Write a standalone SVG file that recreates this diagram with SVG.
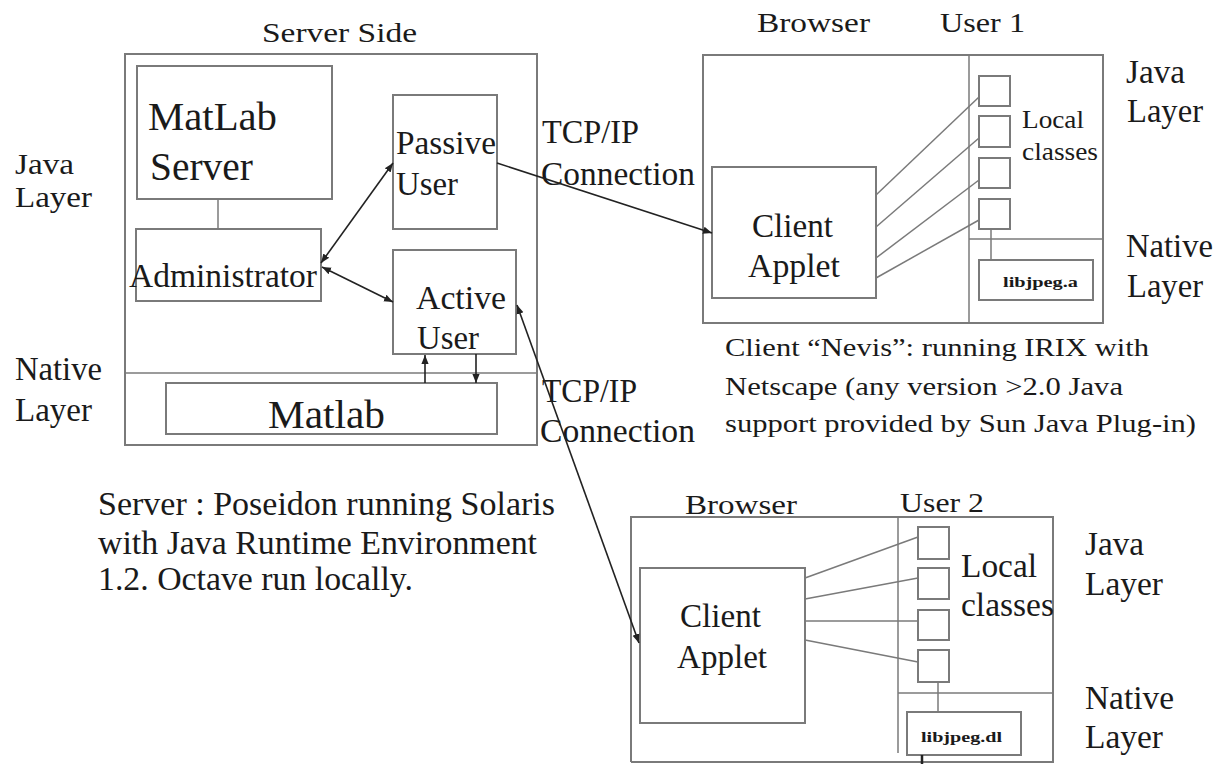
<svg xmlns="http://www.w3.org/2000/svg" width="1224" height="764" viewBox="0 0 1224 764" font-family="'Liberation Serif', 'Times New Roman', serif">
<style>
.bx{fill:none;stroke:#7a7a7a;stroke-width:2}
.ln{fill:none;stroke:#7a7a7a;stroke-width:1.5}
.ar{fill:none;stroke:#222;stroke-width:1.6}
text{font-family:"Liberation Serif","Times New Roman",serif;fill:#1a1a1a}
.t33{font-size:33px}
.t30{font-size:30px}
.t39{font-size:39px}
.t28{font-size:28px}
.t26{font-size:25px}
.sm{font-size:14px;font-weight:bold}
</style>
<defs>
<marker id="ah" viewBox="0 0 10 10" refX="10" refY="5" markerWidth="9" markerHeight="9" markerUnits="userSpaceOnUse" orient="auto-start-reverse">
<path d="M0,1 L10,5 L0,9 z" fill="#222"/>
</marker>
</defs>
<rect width="1224" height="764" fill="#fff"/>

<g id="server">
<text class="t28" x="262" y="42" textLength="155" lengthAdjust="spacingAndGlyphs">Server Side</text>
<rect class="bx" x="125" y="54" width="412" height="391"/>
<line class="ln" x1="125" y1="373" x2="537" y2="373"/>
</g>

<g id="left-labels">
<text class="t30" x="15" y="174" textLength="59" lengthAdjust="spacingAndGlyphs">Java</text>
<text class="t30" x="15" y="207" textLength="77" lengthAdjust="spacingAndGlyphs">Layer</text>
<text class="t33" x="15" y="380" textLength="87" lengthAdjust="spacingAndGlyphs">Native</text>
<text class="t33" x="15" y="421" textLength="77" lengthAdjust="spacingAndGlyphs">Layer</text>
</g>

<g id="matlab-server">
<rect class="bx" x="137" y="66" width="195" height="133"/>
<text class="t39" x="148" y="130" textLength="129" lengthAdjust="spacingAndGlyphs">MatLab</text>
<text class="t39" x="150" y="180" textLength="103" lengthAdjust="spacingAndGlyphs">Server</text>
</g>

<g id="administrator">
<rect class="bx" x="136" y="229" width="185" height="72"/>
<text class="t33" x="129" y="287" textLength="188" lengthAdjust="spacingAndGlyphs">Administrator</text>
</g>

<g id="passive-user">
<rect class="bx" x="393" y="95" width="104" height="134"/>
<text class="t33" x="396" y="154" textLength="100" lengthAdjust="spacingAndGlyphs">Passive</text>
<text class="t33" x="396" y="195" textLength="62" lengthAdjust="spacingAndGlyphs">User</text>
</g>

<g id="active-user">
<rect class="bx" x="393" y="250" width="123" height="104"/>
<text class="t33" x="416" y="309" textLength="90" lengthAdjust="spacingAndGlyphs">Active</text>
<text class="t33" x="417" y="349" textLength="62" lengthAdjust="spacingAndGlyphs">User</text>
</g>

<g id="matlab">
<rect class="bx" x="166" y="383" width="331" height="51"/>
<text class="t39" x="268" y="428" textLength="117" lengthAdjust="spacingAndGlyphs">Matlab</text>
</g>

<g id="tcp-labels">
<text class="t33" x="542" y="143" textLength="97" lengthAdjust="spacingAndGlyphs">TCP/IP</text>
<text class="t33" x="541" y="185" textLength="154" lengthAdjust="spacingAndGlyphs">Connection</text>
<text class="t33" x="542" y="402" textLength="95" lengthAdjust="spacingAndGlyphs">TCP/IP</text>
<text class="t33" x="540" y="442" textLength="155" lengthAdjust="spacingAndGlyphs">Connection</text>
</g>

<g id="server-caption">
<text class="t33" x="98" y="515" textLength="457" lengthAdjust="spacingAndGlyphs">Server : Poseidon running Solaris</text>
<text class="t33" x="98" y="554" textLength="439" lengthAdjust="spacingAndGlyphs">with Java Runtime Environment</text>
<text class="t33" x="98" y="590" textLength="315" lengthAdjust="spacingAndGlyphs">1.2. Octave run locally.</text>
</g>

<g id="browser1">
<text class="t28" x="757" y="32" textLength="113" lengthAdjust="spacingAndGlyphs">Browser</text>
<text class="t28" x="940" y="32" textLength="85" lengthAdjust="spacingAndGlyphs">User 1</text>
<rect class="bx" x="703" y="55" width="400" height="268"/>
<line class="ln" x1="969" y1="55" x2="969" y2="323"/>
<line class="ln" x1="969" y1="239" x2="1103" y2="239"/>
<text class="t33" x="1126" y="83" textLength="59" lengthAdjust="spacingAndGlyphs">Java</text>
<text class="t33" x="1127" y="122" textLength="76" lengthAdjust="spacingAndGlyphs">Layer</text>
<text class="t33" x="1126" y="257" textLength="87" lengthAdjust="spacingAndGlyphs">Native</text>
<text class="t33" x="1127" y="297" textLength="76" lengthAdjust="spacingAndGlyphs">Layer</text>
<text class="t26" x="1022" y="128" textLength="62" lengthAdjust="spacingAndGlyphs">Local</text>
<text class="t26" x="1022" y="160" textLength="76" lengthAdjust="spacingAndGlyphs">classes</text>
</g>

<g id="client-applet1">
<rect class="bx" x="712" y="167" width="164" height="131"/>
<text class="t33" x="752" y="237" textLength="81" lengthAdjust="spacingAndGlyphs">Client</text>
<text class="t33" x="748" y="277" textLength="92" lengthAdjust="spacingAndGlyphs">Applet</text>
</g>

<g id="local-classes1">
<rect class="bx" x="979" y="76" width="31" height="30"/>
<rect class="bx" x="979" y="116" width="31" height="31"/>
<rect class="bx" x="979" y="158" width="31" height="30"/>
<rect class="bx" x="979" y="199" width="31" height="30"/>
</g>

<g id="libjpeg-a">
<rect class="bx" x="979" y="260" width="114" height="40"/>
<text class="sm" x="1003" y="287" textLength="75" lengthAdjust="spacingAndGlyphs">libjpeg.a</text>
</g>

<g id="client-caption">
<text class="t26" x="725" y="356" textLength="424" lengthAdjust="spacingAndGlyphs">Client “Nevis”: running IRIX with</text>
<text class="t26" x="725" y="395" textLength="398" lengthAdjust="spacingAndGlyphs">Netscape (any version &gt;2.0 Java</text>
<text class="t26" x="725" y="432" textLength="471" lengthAdjust="spacingAndGlyphs">support provided by Sun Java Plug-in)</text>
</g>

<g id="browser2">
<text class="t28" x="685" y="514" textLength="112" lengthAdjust="spacingAndGlyphs">Browser</text>
<text class="t28" x="900" y="512" textLength="84" lengthAdjust="spacingAndGlyphs">User 2</text>
<path class="bx" d="M631,762 V517 H1053 V762 H631"/>
<line class="ln" x1="898" y1="517" x2="898" y2="753"/>
<line class="ln" x1="898" y1="693" x2="1053" y2="693"/>
<text class="t33" x="1085" y="555" textLength="59" lengthAdjust="spacingAndGlyphs">Java</text>
<text class="t33" x="1085" y="595" textLength="78" lengthAdjust="spacingAndGlyphs">Layer</text>
<text class="t33" x="1085" y="709" textLength="89" lengthAdjust="spacingAndGlyphs">Native</text>
<text class="t33" x="1085" y="748" textLength="78" lengthAdjust="spacingAndGlyphs">Layer</text>
<text class="t33" x="961" y="577" textLength="76" lengthAdjust="spacingAndGlyphs">Local</text>
<text class="t33" x="961" y="616" textLength="93" lengthAdjust="spacingAndGlyphs">classes</text>
</g>

<g id="client-applet2">
<rect class="bx" x="640" y="568" width="165" height="155"/>
<text class="t33" x="680" y="627" textLength="81" lengthAdjust="spacingAndGlyphs">Client</text>
<text class="t33" x="677" y="668" textLength="90" lengthAdjust="spacingAndGlyphs">Applet</text>
</g>

<g id="local-classes2">
<rect class="bx" x="918" y="527" width="31" height="32"/>
<rect class="bx" x="918" y="568" width="31" height="31"/>
<rect class="bx" x="918" y="610" width="31" height="30"/>
<rect class="bx" x="918" y="650" width="31" height="32"/>
</g>

<g id="libjpeg-dl">
<rect class="bx" x="907" y="712" width="114" height="43"/>
<text class="sm" x="921" y="742" textLength="81" lengthAdjust="spacingAndGlyphs">libjpeg.dl</text>
</g>

<g id="connectors">
<line class="ln" x1="218" y1="199" x2="218" y2="229"/>
<line class="ar" x1="321" y1="263" x2="393" y2="163" marker-start="url(#ah)" marker-end="url(#ah)"/>
<line class="ar" x1="322" y1="267" x2="393" y2="302" marker-start="url(#ah)" marker-end="url(#ah)"/>
<line class="ar" x1="425" y1="383" x2="425" y2="355" marker-end="url(#ah)"/>
<line class="ar" x1="476" y1="354" x2="476" y2="383" marker-end="url(#ah)"/>
<line class="ar" x1="497" y1="163" x2="712" y2="233" marker-end="url(#ah)"/>
<line class="ar" x1="517" y1="305" x2="639" y2="643" marker-start="url(#ah)" marker-end="url(#ah)"/>
<line class="ln" x1="876" y1="195" x2="979" y2="97"/>
<line class="ln" x1="876" y1="227" x2="979" y2="138"/>
<line class="ln" x1="876" y1="258" x2="979" y2="180"/>
<line class="ln" x1="876" y1="278" x2="979" y2="220"/>
<line class="ln" x1="991" y1="229" x2="991" y2="260"/>
<line class="ln" x1="805" y1="578" x2="918" y2="537"/>
<line class="ln" x1="805" y1="599" x2="918" y2="578"/>
<line class="ln" x1="805" y1="621" x2="918" y2="621"/>
<line class="ln" x1="805" y1="640" x2="918" y2="662"/>
<line class="ln" x1="938" y1="682" x2="938" y2="712"/>
<line class="ar" x1="922" y1="755" x2="922" y2="764" style="stroke-width:2.5"/>
</g>
</svg>
